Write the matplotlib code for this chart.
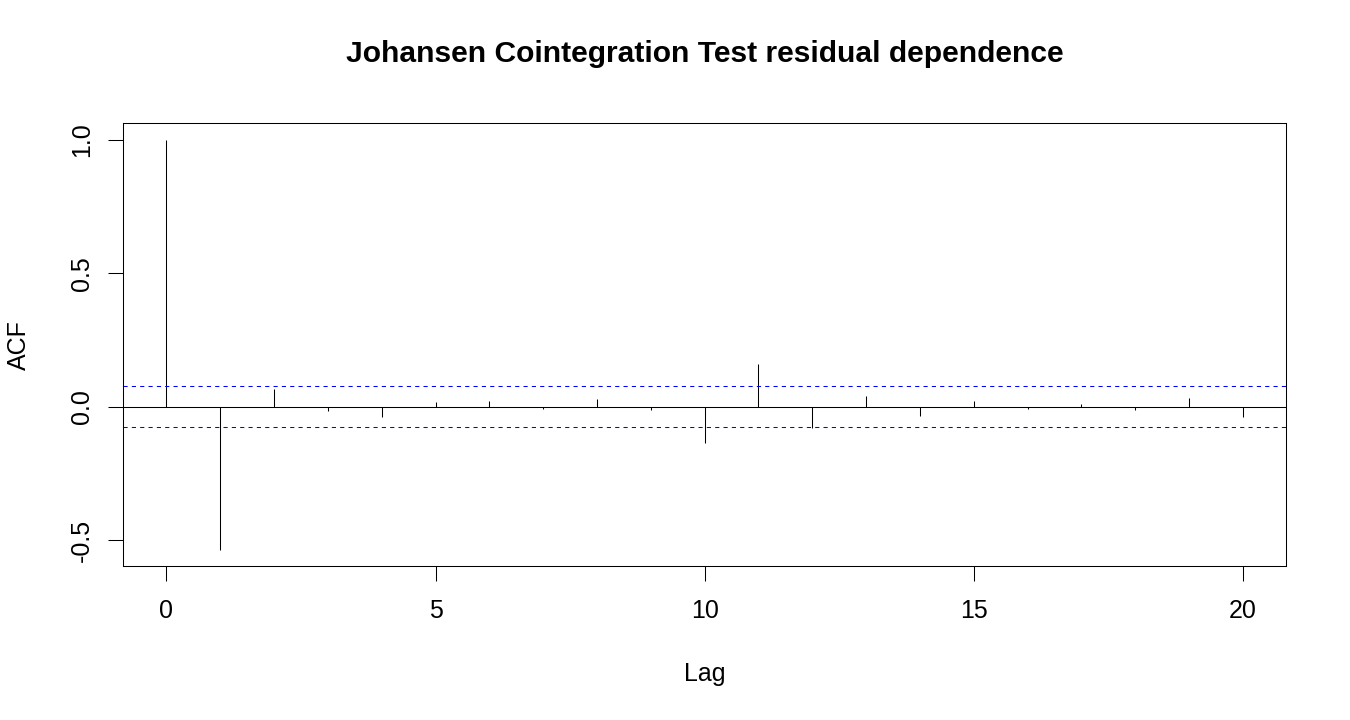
import matplotlib
matplotlib.use("Agg")
import matplotlib.pyplot as plt
import numpy as np

lags = list(range(0, 21))
acf_values = [1.0, -0.536, 0.067, -0.016, -0.039, 0.016, 0.020, -0.010, 0.027, -0.014,
              -0.137, 0.158, -0.079, 0.039, -0.036, 0.020, -0.010, 0.010, -0.014, 0.031, -0.040]
conf_limit = 0.0768
x_ticks = [0, 5, 10, 15, 20]
y_ticks = [-0.5, 0.0, 0.5, 1.0]
y_tick_labels = ["-0.5", "0.0", "0.5", "1.0"]

plt.rcParams['font.family'] = ['Liberation Sans', 'DejaVu Sans']

W, H = 1350, 720
fig = plt.figure(figsize=(W / 100, H / 100), dpi=100)
left, right, top, bottom = 123.3, 1286, 123.3, 566
ax = fig.add_axes([left / W, 1 - bottom / H, (right - left) / W, (bottom - top) / H])

lw = 0.75
ax.vlines(lags, 0, acf_values, colors='black', linewidth=lw)
ax.axhline(0, color='black', linewidth=lw)
ax.axhline(conf_limit, color='blue', linewidth=lw, linestyle=(0, (4, 4)))
ax.axhline(-conf_limit, color='blue', linewidth=lw, linestyle=(0, (4, 4)))

xmin, xmax = 0, 20
ext = (xmax - xmin) * 0.04
ax.set_xlim(xmin - ext, xmax + ext)
ymin = min(min(acf_values), -conf_limit)
ymax = max(max(acf_values), conf_limit)
yext = (ymax - ymin) * 0.04
ax.set_ylim(ymin - yext, ymax + yext)

ax.set_xticks(x_ticks)
ax.set_xticklabels([str(t) for t in x_ticks])
ax.set_yticks(y_ticks)
ax.set_yticklabels(y_tick_labels, rotation=90, va='center')

for s in ax.spines.values():
    s.set_linewidth(lw)
    s.set_color('black')

ax.tick_params(axis='both', length=11, width=lw, labelsize=18, colors='black')
ax.tick_params(axis='x', pad=13)
ax.tick_params(axis='y', pad=10)

fig.text(704.5 / W, 1 - 54 / H, "Johansen Cointegration Test residual dependence",
         ha='center', va='center', fontsize=21.6, fontweight='bold')
fig.text(704.5 / W, 1 - 674 / H, "Lag", ha='center', va='center', fontsize=18)
fig.text(19 / W, 1 - 345 / H, "ACF", ha='center', va='center', fontsize=18, rotation=90)

fig.savefig("out.png", dpi=100, facecolor='white')
